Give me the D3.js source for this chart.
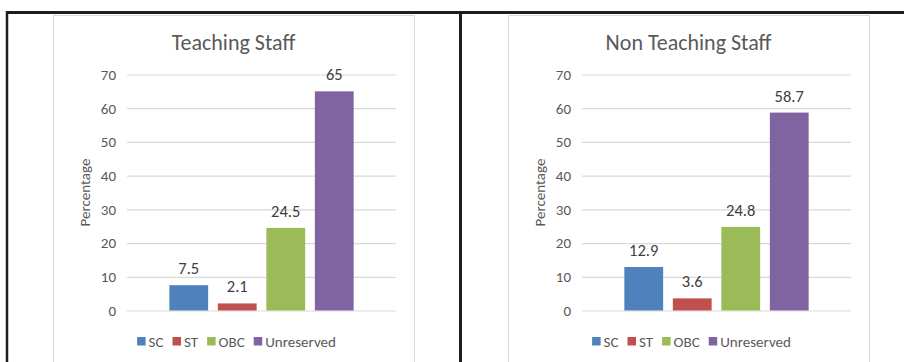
<!DOCTYPE html>
<html>
<head>
<meta charset="utf-8">
<script src="https://cdn.jsdelivr.net/npm/d3@7"></script>
<style>
  html, body { margin: 0; padding: 0; background: #fff; }
  svg { display: block; }
  text { font-family: Carlito, Calibri, Lato, "Noto Sans", sans-serif; }
</style>
</head>
<body>
<svg id="chart" width="904" height="362"></svg>
<script>
// Reservation categories and their shares (%) in each staff group
const categories = ["SC", "ST", "OBC", "Unreserved"];
const teachingValues = [7.5, 2.1, 24.5, 65];
const nonTeachingValues = [12.9, 3.6, 24.8, 58.7];
const yTicks = [0, 10, 20, 30, 40, 50, 60, 70];
const panelTitles = ["Teaching Staff", "Non Teaching Staff"];
const yAxisLabel = "Percentage";
const colors = ["#4f81bd", "#c0504d", "#9bbb59", "#8064a2"];

const svg = d3.select("#chart");
svg.append("rect").attr("width", 904).attr("height", 362).attr("fill", "#fff");

// Panel geometry (relative to panel origin)
const frame = { x: 53, y: 15, w: 361, h: 380 };
const plot = { left: 127, right: 396, top: 74.5, bottom: 310.5 };
const panelOffsets = [0, 455];

function drawPanel(offset, title, values) {
  const g = svg.append("g").attr("transform", `translate(${offset},0)`);

  g.append("rect")
    .attr("x", frame.x + 0.5).attr("y", frame.y + 0.5)
    .attr("width", frame.w).attr("height", frame.h)
    .attr("fill", "#fff").attr("stroke", "#d9d9d9").attr("stroke-width", 1);

  const y = d3.scaleLinear().domain([0, 70]).range([plot.bottom, plot.top]);
  const x = d3.scaleBand().domain(categories)
    .range([plot.left, plot.right])
    .paddingInner(0.2).paddingOuter(0.873);

  // gridlines + tick labels via axis
  const axis = d3.axisLeft(y).tickValues(yTicks)
    .tickSize(-(plot.right - plot.left)).tickPadding(11);
  const ax = g.append("g").attr("transform", `translate(${plot.left},0)`).call(axis);
  ax.select(".domain").remove();
  ax.selectAll(".tick line").attr("stroke", "#d9d9d9").attr("stroke-width", 1.2);
  ax.selectAll(".tick text")
    .attr("fill", "#595959").style("font-size", "15px");

  // axis title
  g.append("text")
    .attr("transform", `translate(${85},${(plot.top + plot.bottom) / 2}) rotate(-90)`)
    .attr("text-anchor", "middle").attr("dy", "0.35em")
    .attr("fill", "#595959").style("font-size", "15px")
    .text(yAxisLabel);

  // chart title
  g.append("text")
    .attr("x", frame.x + frame.w / 2).attr("y", 50)
    .attr("text-anchor", "middle")
    .attr("fill", "#595959").style("font-size", "22px")
    .text(title);

  // bars
  g.selectAll("rect.bar").data(values).enter().append("rect")
    .attr("class", "bar")
    .attr("x", (d, i) => x(categories[i]))
    .attr("width", x.bandwidth())
    .attr("y", d => y(d))
    .attr("height", d => y(0) - y(d))
    .attr("fill", (d, i) => colors[i]);

  // value labels
  g.selectAll("text.val").data(values).enter().append("text")
    .attr("class", "val")
    .attr("x", (d, i) => x(categories[i]) + x.bandwidth() / 2)
    .attr("y", d => y(d) - 11)
    .attr("text-anchor", "middle")
    .attr("fill", "#404040").style("font-size", "16.5px")
    .text(d => d);

  // legend
  const leg = g.append("g");
  let cx = 0;
  categories.forEach((c, i) => {
    const item = leg.append("g").attr("transform", `translate(${cx},0)`);
    item.append("rect").attr("x", 0).attr("y", -4.5).attr("width", 8.5).attr("height", 8.5)
      .attr("fill", colors[i]);
    const t = item.append("text").attr("x", 11.5).attr("y", 0).attr("dy", "0.35em")
      .attr("fill", "#595959").style("font-size", "15px").text(c);
    cx += 11.5 + t.node().getComputedTextLength() + 9;
  });
  const legW = cx - 9;
  leg.attr("transform", `translate(${236.5 - legW / 2},${341.5})`);
}

panelOffsets.forEach((off, i) => {
  drawPanel(off, panelTitles[i], i === 0 ? teachingValues : nonTeachingValues);
});

// surrounding table rules
const rules = svg.append("g").attr("stroke", "#1e1e1e");
rules.append("line").attr("x1", 6).attr("x2", 904).attr("y1", 12.5).attr("y2", 12.5).attr("stroke-width", 3);
rules.append("line").attr("x1", 7).attr("x2", 7).attr("y1", 11).attr("y2", 362).attr("stroke-width", 2.5);
rules.append("line").attr("x1", 460.5).attr("x2", 460.5).attr("y1", 11).attr("y2", 362).attr("stroke-width", 3);
</script>
</body>
</html>
